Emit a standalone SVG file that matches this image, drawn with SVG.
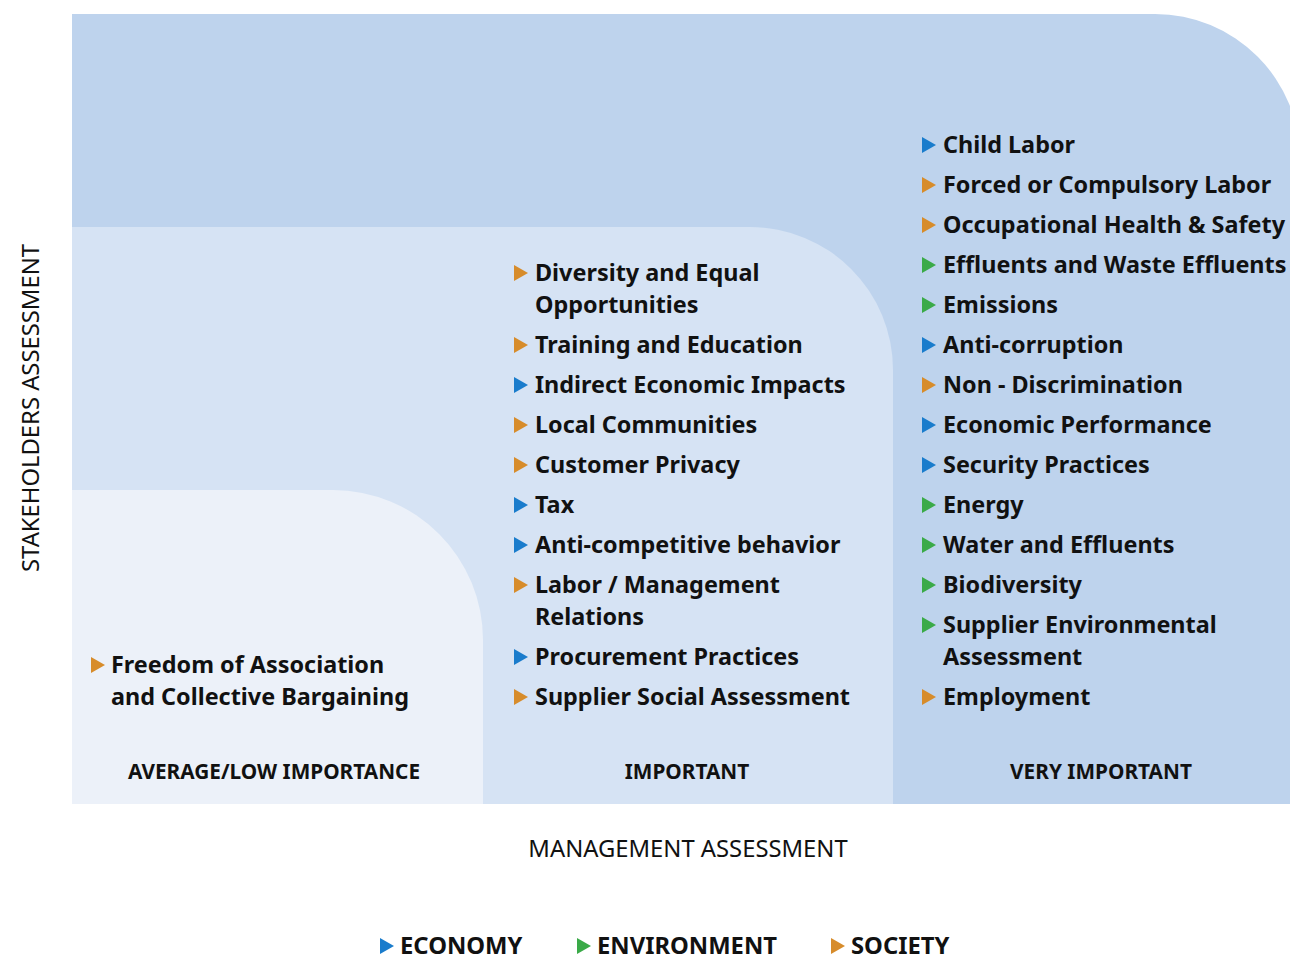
<svg xmlns="http://www.w3.org/2000/svg" width="1290" height="959" viewBox="0 0 1290 959">
  <defs>
    <style>
      .item { font-family: "Noto Sans", "Open Sans", sans-serif; font-weight: 700; font-size: 23.4px; fill: #111; }
      .leg { font-family: "Noto Sans", "Open Sans", sans-serif; font-weight: 700; font-size: 23.8px; fill: #111; }
      .cat { font-family: "Noto Sans", "Open Sans", sans-serif; font-weight: 700; font-size: 20.8px; fill: #111; text-anchor: middle; }
      .axis { font-family: "Noto Sans", "Open Sans", sans-serif; font-weight: 400; font-size: 23.8px; fill: #111; text-anchor: middle; }
      .eco { fill: #1a7ccc; }
      .env { fill: #3aaa48; }
      .soc { fill: #d78c2b; }
    </style>
    <polygon id="tri" points="0,-8 14,0 0,8"/>
  </defs>

  <rect width="1290" height="959" fill="#ffffff"/>

  <!-- importance zones -->
  <g id="zone-very-important">
    <path d="M72,14 H1155 A145,145 0 0 1 1300,159 V804 H72 Z" fill="#bed3ed"/>
  </g>
  <g id="zone-important">
    <path d="M72,227 H750 A143,143 0 0 1 893,370 V804 H72 Z" fill="#d6e3f4"/>
  </g>
  <g id="zone-average">
    <path d="M72,490 H333 A150,150 0 0 1 483,640 V804 H72 Z" fill="#ecf1f9"/>
  </g>

  <!-- axis titles -->
  <g id="axis-labels">
    <text class="axis" x="688" y="857">MANAGEMENT ASSESSMENT</text>
    <text class="axis" transform="translate(39,408) rotate(-90)">STAKEHOLDERS ASSESSMENT</text>
  </g>

  <!-- very important topics -->
  <g id="topics-very-important">
    <use href="#tri" class="eco" x="922" y="145"/><text class="item" x="943" y="153">Child Labor</text>
    <use href="#tri" class="soc" x="922" y="185"/><text class="item" x="943" y="193">Forced or Compulsory Labor</text>
    <use href="#tri" class="soc" x="922" y="225"/><text class="item" x="943" y="233">Occupational Health &amp; Safety</text>
    <use href="#tri" class="env" x="922" y="265"/><text class="item" x="943" y="273">Effluents and Waste Effluents</text>
    <use href="#tri" class="env" x="922" y="305"/><text class="item" x="943" y="313">Emissions</text>
    <use href="#tri" class="eco" x="922" y="345"/><text class="item" x="943" y="353">Anti-corruption</text>
    <use href="#tri" class="soc" x="922" y="385"/><text class="item" x="943" y="393">Non - Discrimination</text>
    <use href="#tri" class="eco" x="922" y="425"/><text class="item" x="943" y="433">Economic Performance</text>
    <use href="#tri" class="eco" x="922" y="465"/><text class="item" x="943" y="473">Security Practices</text>
    <use href="#tri" class="env" x="922" y="505"/><text class="item" x="943" y="513">Energy</text>
    <use href="#tri" class="env" x="922" y="545"/><text class="item" x="943" y="553">Water and Effluents</text>
    <use href="#tri" class="env" x="922" y="585"/><text class="item" x="943" y="593">Biodiversity</text>
    <use href="#tri" class="env" x="922" y="625"/><text class="item" x="943" y="633">Supplier Environmental</text>
    <text class="item" x="943" y="665">Assessment</text>
    <use href="#tri" class="soc" x="922" y="697"/><text class="item" x="943" y="705">Employment</text>
    <text class="cat" x="1101" y="779">VERY IMPORTANT</text>
  </g>

  <!-- important topics -->
  <g id="topics-important">
    <use href="#tri" class="soc" x="514" y="273"/><text class="item" x="535" y="281">Diversity and Equal</text>
    <text class="item" x="535" y="313">Opportunities</text>
    <use href="#tri" class="soc" x="514" y="345"/><text class="item" x="535" y="353">Training and Education</text>
    <use href="#tri" class="eco" x="514" y="385"/><text class="item" x="535" y="393">Indirect Economic Impacts</text>
    <use href="#tri" class="soc" x="514" y="425"/><text class="item" x="535" y="433">Local Communities</text>
    <use href="#tri" class="soc" x="514" y="465"/><text class="item" x="535" y="473">Customer Privacy</text>
    <use href="#tri" class="eco" x="514" y="505"/><text class="item" x="535" y="513">Tax</text>
    <use href="#tri" class="eco" x="514" y="545"/><text class="item" x="535" y="553">Anti-competitive behavior</text>
    <use href="#tri" class="soc" x="514" y="585"/><text class="item" x="535" y="593">Labor / Management</text>
    <text class="item" x="535" y="625">Relations</text>
    <use href="#tri" class="eco" x="514" y="657"/><text class="item" x="535" y="665">Procurement Practices</text>
    <use href="#tri" class="soc" x="514" y="697"/><text class="item" x="535" y="705">Supplier Social Assessment</text>
    <text class="cat" x="687" y="779">IMPORTANT</text>
  </g>

  <!-- average / low importance topics -->
  <g id="topics-average">
    <use href="#tri" class="soc" x="91" y="665"/><text class="item" x="111" y="673">Freedom of Association</text>
    <text class="item" x="111" y="705">and Collective Bargaining</text>
    <text class="cat" x="274" y="779">AVERAGE/LOW IMPORTANCE</text>
  </g>

  <!-- legend -->
  <g id="legend">
    <use href="#tri" class="eco" x="380" y="946"/><text class="leg" x="400" y="954">ECONOMY</text>
    <use href="#tri" class="env" x="577" y="946"/><text class="leg" x="597" y="954">ENVIRONMENT</text>
    <use href="#tri" class="soc" x="831" y="946"/><text class="leg" x="851" y="954">SOCIETY</text>
  </g>

  <g id="connectors"/>
</svg>
